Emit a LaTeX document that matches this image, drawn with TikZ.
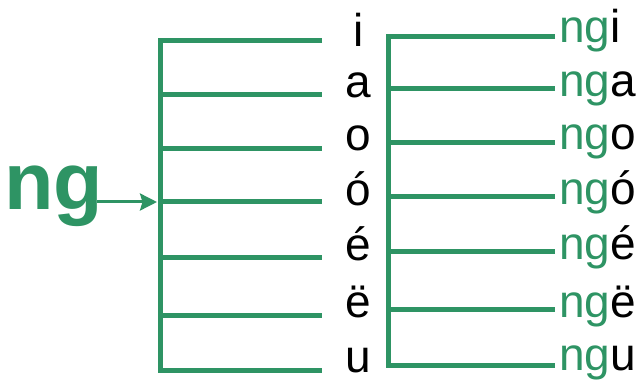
\documentclass[tikz,border=0pt]{standalone}
\usepackage{fontspec}
\setmainfont{Liberation Sans}
\usetikzlibrary{arrows.meta}
\definecolor{ngreen}{RGB}{46,148,100}
\begin{document}
\begin{tikzpicture}[x=1pt,y=-1pt,
  barline/.style={draw=ngreen,line width=5pt,miter limit=10},
  arrowline/.style={draw=ngreen,line width=3pt,-{Stealth[length=17pt,width=17pt,inset=2.5pt]}},
  vowel/.style={anchor=base,inner sep=0pt,font=\fontsize{46}{46}\selectfont,text=black},
  result/.style={anchor=base west,inner sep=0pt,font=\fontsize{46}{46}\selectfont,text=black},
  bigng/.style={anchor=base west,inner sep=0pt,font=\bfseries\fontsize{81}{81}\selectfont,text=ngreen}]
\useasboundingbox (0,0) rectangle (643,382);
% big ng and arrow
\node[bigng] (ng) at (4,210) {ng};
\coordinate (tip) at (157,202);
\draw[arrowline] ([xshift=-6pt]ng.east |- tip) -- (tip);
% left bracket
\foreach \i/\y in {1/41,2/95,3/149,4/202,5/258,6/316,7/370}{
  \coordinate (La\i) at (160,\y);
  \coordinate (Lb\i) at (322,\y);
}
\draw[barline] (Lb1) -- (La1) -- (La7) -- (Lb7);
\foreach \i in {2,...,6}{\draw[barline] (La\i) -- (Lb\i);}
% vowels
\foreach \i/\y/\t in {1/47/i,2/98/a,3/151/o,4/206/ó,5/261/é,6/317/ë,7/372/u}{
  \node[vowel] (v\i) at (358.5,\y) {\t};
}
% right bracket
\foreach \i/\y in {1/37,2/89,3/143,4/197,5/252,6/310,7/365}{
  \coordinate (Ra\i) at (388,\y);
  \coordinate (Rb\i) at (555,\y);
}
\draw[barline] (Rb1) -- (Ra1) -- (Ra7) -- (Rb7);
\foreach \i in {2,...,6}{\draw[barline] (Ra\i) -- (Rb\i);}
% results
\foreach \i/\y/\t in {1/43/i,2/97/a,3/150/o,4/205/ó,5/260/é,6/317/ë,7/370/u}{
  \node[result] (r\i) at (559,\y) {\textcolor{ngreen}{ng}\t};
}
\end{tikzpicture}
\end{document}
